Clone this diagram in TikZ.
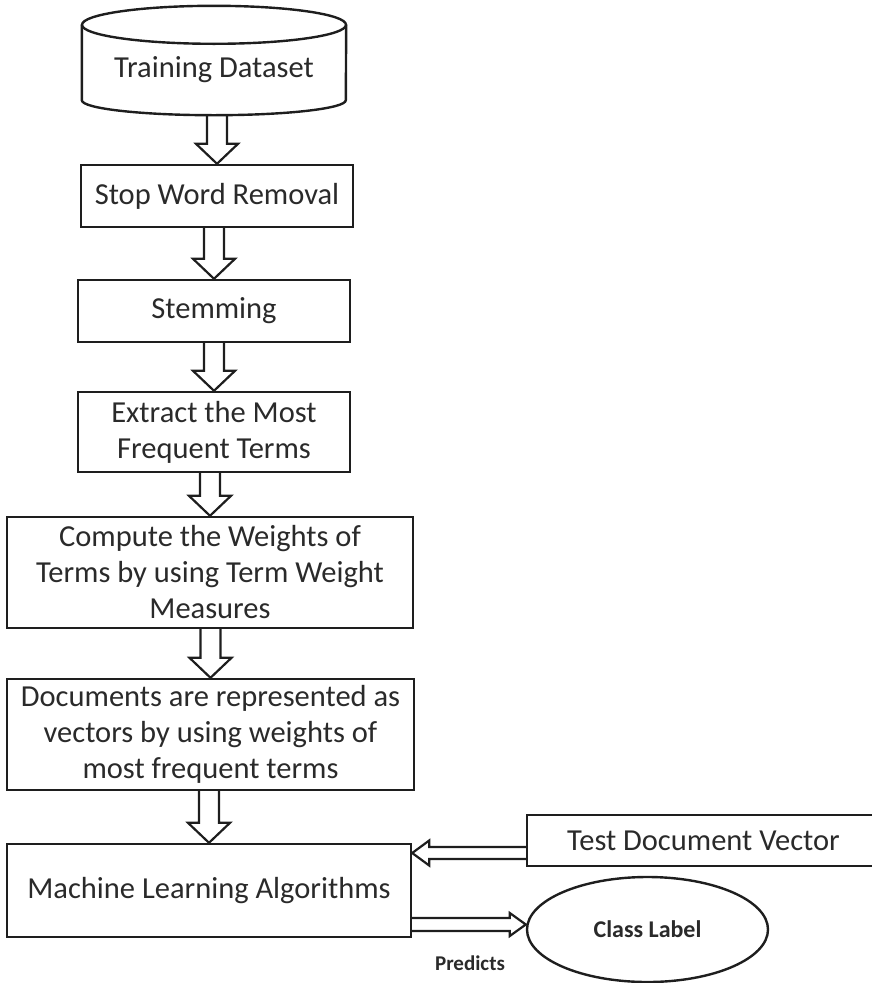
\documentclass[tikz,border=0pt]{standalone}
\usepackage{fontspec}
\setmainfont{Carlito}
\usetikzlibrary{calc,shapes.geometric}
\definecolor{lineC}{HTML}{1E1E1E}
\definecolor{textC}{HTML}{2A2A2A}
\tikzset{
  box/.style={draw=lineC, line width=2.4pt, rectangle, inner sep=0pt, align=center,
    text=textC, font={\fontsize{30.5}{36}\selectfont}},
  plain/.style={inner sep=0pt, align=center, text=textC, font={\fontsize{30.5}{36}\selectfont}},
  blk/.style={draw=lineC, line width=2.2pt, line join=miter},
  outline/.style={draw=lineC, line width=2.4pt},
}
\newcommand\vblock[2]{%
  \draw[blk] let \p1=(#1.south), \p2=(#2.north) in
    ({\x2-10pt},\y1) -- ({\x2-10pt},{\y2+20pt}) -- ({\x2-21pt},{\y2+20pt}) -- (\x2,\y2)
    -- ({\x2+21pt},{\y2+20pt}) -- ({\x2+10pt},{\y2+20pt}) -- ({\x2+10pt},\y1);}
\begin{document}
\begin{tikzpicture}[x=1pt,y=-1pt]
\useasboundingbox (0,0) rectangle (872,983);
% cylinder
\node[plain, minimum width=264pt, minimum height=90pt] (db) at (214,70) {Training Dataset};
\draw[outline] (db.north) ellipse [x radius=132pt, y radius=19pt];
\draw[outline] (db.north west) -- ($(db.south west)+(0,-15)$)
  arc[start angle=180, end angle=360, x radius=132pt, y radius=15pt] -- (db.north east);
% boxes
\node[box, minimum width=272pt, minimum height=62pt] (stop) at (217,196) {Stop Word Removal};
\node[box, minimum width=272pt, minimum height=62pt] (stem) at (214,311) {Stemming};
\node[box, minimum width=272pt, minimum height=80pt] (extract) at (214,432) {Extract the Most\\Frequent Terms};
\node[box, minimum width=406pt, minimum height=111pt] (comp) at (210,572.5) {Compute the Weights of\\Terms by using Term Weight\\Measures};
\node[box, minimum width=407pt, minimum height=111pt] (docs) at (210.5,734.5) {Documents are represented as\\vectors by using weights of\\most frequent terms};
\node[box, minimum width=404pt, minimum height=93pt] (ml) at (209,890.5) {Machine Learning Algorithms};
\node[box, minimum width=353pt, minimum height=51pt] (test) at (703.5,840.5) {Test Document Vector};
\node[draw=lineC, line width=2.4pt, ellipse, inner sep=0pt, minimum width=241pt, minimum height=105pt,
  text=textC, font={\bfseries\fontsize{24}{26}\selectfont}] (cl) at (647.5,929.5) {Class Label};
\node[text=textC, font={\bfseries\fontsize{21}{22}\selectfont}, inner sep=0pt, anchor=base] (pred) at (470,970) {Predicts};
% vertical block arrows
\vblock{db}{stop}
\vblock{stop}{stem}
\vblock{stem}{extract}
\vblock{extract}{comp}
\vblock{comp}{docs}
\vblock{docs}{ml}
% horizontal block arrows
\draw[blk] let \p1=($(test.west)+(0,12.5)$), \p2=(ml.east) in
  (\x1,{\y1+6pt}) -- ({\x2+17pt},{\y1+6pt}) -- ({\x2+17pt},{\y1+12.5pt}) -- (\x2,\y1)
  -- ({\x2+17pt},{\y1-12.5pt}) -- ({\x2+17pt},{\y1-6pt}) -- (\x1,{\y1-6pt});
\draw[blk] let \p1=($(ml.east)+(0,34)$), \p2=(cl.west) in
  (\x1,{\y1+6.5pt}) -- ({\x2-16pt},{\y1+6.5pt}) -- ({\x2-16pt},{\y1+11.5pt}) -- (\x2,\y1)
  -- ({\x2-16pt},{\y1-11.5pt}) -- ({\x2-16pt},{\y1-6.5pt}) -- (\x1,{\y1-6.5pt});
\end{tikzpicture}
\end{document}
